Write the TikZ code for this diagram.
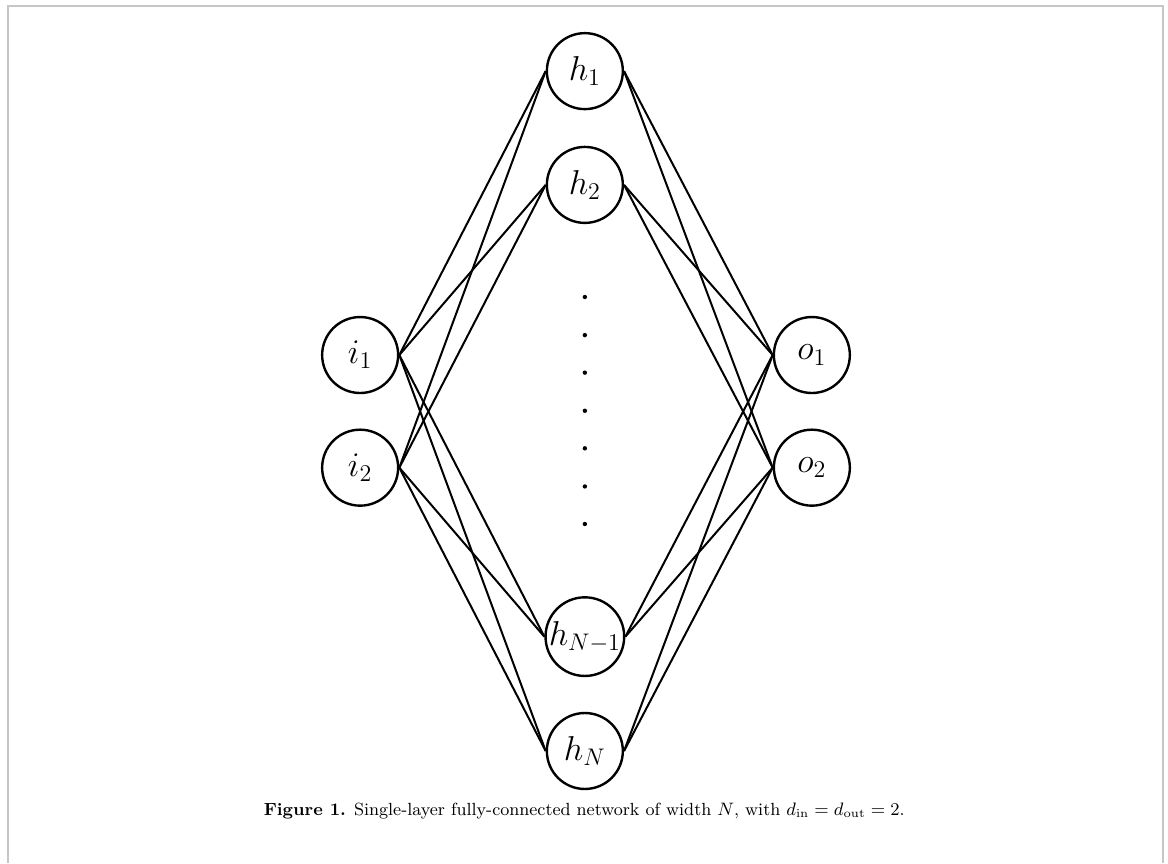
\documentclass[tikz,border=0pt]{standalone}
\usepackage{amsmath}
\usepackage{amsfonts}
\usepackage{amssymb}
\usepackage{tikz}

\begin{document}
\begin{tikzpicture}[
    neuron/.style={draw, very thick, circle, minimum size=38pt, inner sep=0pt, font=\LARGE},
    edge/.style={line width=1pt}
    ]
    \useasboundingbox (0,0) rectangle (20.53,-15.17);
    \draw[gray!45, line width=1pt] (0.14,-15.17) -- (0.14,-0.105) -- (20.44,-0.105) -- (20.44,-15.17);

    \node[neuron] (i1) at (6.33,-6.24) {$i_1$};
    \node[neuron] (i2) at (6.33,-8.22) {$i_2$};

    \node[neuron] (h1) at (10.28,-1.25) {$h_1$};
    \node[neuron] (h2) at (10.28,-3.25) {$h_2$};
    \node[neuron] (hm) at (10.28,-11.19) {$h_{N-1}$};
    \node[neuron] (hN) at (10.28,-13.20) {$h_N$};

    \node[neuron] (o1) at (14.27,-6.24) {$o_1$};
    \node[neuron] (o2) at (14.27,-8.22) {$o_2$};

    \fill (10.28,-5.22) circle (1.1pt);
    \fill (10.28,-5.89) circle (1.1pt);
    \fill (10.28,-6.55) circle (1.1pt);
    \fill (10.28,-7.22) circle (1.1pt);
    \fill (10.28,-7.88) circle (1.1pt);
    \fill (10.28,-8.55) circle (1.1pt);
    \fill (10.28,-9.21) circle (1.1pt);

    \draw[edge] (i1.east) -- (h1.west);
    \draw[edge] (i1.east) -- (h2.west);
    \draw[edge] (i1.east) -- (hm.west);
    \draw[edge] (i1.east) -- (hN.west);
    \draw[edge] (i2.east) -- (h1.west);
    \draw[edge] (i2.east) -- (h2.west);
    \draw[edge] (i2.east) -- (hm.west);
    \draw[edge] (i2.east) -- (hN.west);

    \draw[edge] (h1.east) -- (o1.west);
    \draw[edge] (h1.east) -- (o2.west);
    \draw[edge] (h2.east) -- (o1.west);
    \draw[edge] (h2.east) -- (o2.west);
    \draw[edge] (hm.east) -- (o1.west);
    \draw[edge] (hm.east) -- (o2.west);
    \draw[edge] (hN.east) -- (o1.west);
    \draw[edge] (hN.east) -- (o2.west);

    \node[font=\fontsize{8.8}{10}\selectfont] (cap) at (10.27,-14.25) {\textbf{Figure 1.} Single-layer fully-connected network of width $N$, with $d_{\mathrm{in}} = d_{\mathrm{out}} = 2$.};
\end{tikzpicture}
\end{document}
